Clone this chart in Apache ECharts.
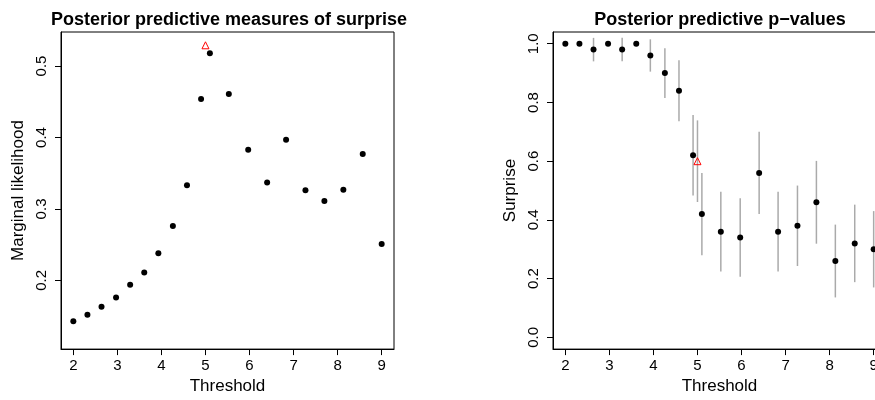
<!DOCTYPE html>
<html>
<head>
<meta charset="utf-8">
<title>Posterior predictive</title>
<style type="text/css">
  html, body { margin: 0; padding: 0; overflow: hidden; background: #fff; }
  #main { width: 984px; height: 400px; }
</style>
<script src="https://cdn.jsdelivr.net/npm/echarts@6/dist/echarts.min.js"></script>
</head>
<body>
<div id="main"></div>
<script type="text/javascript">
// thresholds (x) shared by both panels
var thresholds = [2, 2.32, 2.64, 2.97, 3.29, 3.61, 3.93, 4.26, 4.58, 4.9,
                  5.1, 5.53, 5.97, 6.4, 6.83, 7.27, 7.7, 8.13, 8.57, 9.0];
// left panel
var likelihood = [0.143, 0.152, 0.163, 0.176, 0.194, 0.211, 0.238, 0.276, 0.333, 0.454,
                  0.518, 0.461, 0.383, 0.337, 0.397, 0.326, 0.311, 0.327, 0.377, 0.251];
var likelihoodMark = [5, 0.529];
// right panel
var pvalue = [1.0, 1.0, 0.98, 1.0, 0.98, 1.0, 0.96, 0.90, 0.84, 0.62,
              0.42, 0.36, 0.34, 0.56, 0.36, 0.38, 0.46, 0.26, 0.32, 0.30];
var pvalueLow = [1.0, 1.0, 0.94, 1.0, 0.94, 1.0, 0.905, 0.815, 0.736, 0.483,
                 0.28, 0.224, 0.206, 0.42, 0.224, 0.243, 0.319, 0.136, 0.188, 0.17];
var pvalueHigh = [1.0, 1.0, 1.02, 1.0, 1.02, 1.0, 1.015, 0.985, 0.944, 0.757,
                  0.56, 0.496, 0.474, 0.70, 0.496, 0.517, 0.601, 0.384, 0.452, 0.43];
var pvalueMark = [5, 0.60, 0.461, 0.739];

var xTicks = [2, 3, 4, 5, 6, 7, 8, 9];
var leftTicks = [0.2, 0.3, 0.4, 0.5];
var rightTicks = [0, 0.2, 0.4, 0.6, 0.8, 1.0];

var FONT = "'Liberation Sans', Arial, Helvetica, sans-serif";

var chart = echarts.init(document.getElementById('main'));

function xAxis(idx) {
  return {
    gridIndex: idx, type: 'value', min: 1.72, max: 9.28,
    name: 'Threshold', nameLocation: 'middle', nameGap: 28,
    nameTextStyle: { fontFamily: FONT, fontSize: 17, color: '#000' },
    axisLine: { show: true, onZero: false, lineStyle: { color: '#000', width: 1 } },
    axisTick: { show: true, length: 6, lineStyle: { color: '#000' }, customValues: xTicks },
    axisLabel: { fontFamily: FONT, fontSize: 15, color: '#000', margin: 9, customValues: xTicks,
                 formatter: function (v) { return String(v); } },
    splitLine: { show: false }
  };
}

function yAxis(idx, name, min, max, ticks) {
  return {
    gridIndex: idx, type: 'value', min: min, max: max,
    name: name, nameLocation: 'middle', nameGap: 34, nameRotate: 90,
    nameTextStyle: { fontFamily: FONT, fontSize: 17, color: '#000' },
    axisLine: { show: true, onZero: false, lineStyle: { color: '#000', width: 1 } },
    axisTick: { show: true, length: 6, lineStyle: { color: '#000' }, customValues: ticks },
    axisLabel: { fontFamily: FONT, fontSize: 15, color: '#000', margin: 12, rotate: 90,
                 customValues: ticks, formatter: function (v) { return v.toFixed(1); } },
    splitLine: { show: false }
  };
}

var likeData = thresholds.map(function (t, i) { return [t, likelihood[i]]; });
var pData = thresholds.map(function (t, i) { return [t, pvalue[i]]; });
var barData = thresholds.map(function (t, i) { return [t, pvalueLow[i], pvalueHigh[i]]; });
barData.push([pvalueMark[0], pvalueMark[2], pvalueMark[3]]);

chart.setOption({
  animation: false,
  title: [
    { text: 'Posterior predictive measures of surprise', left: 224, top: 6, textAlign: 'center',
      textStyle: { fontFamily: FONT, fontSize: 18, fontWeight: 'bold', color: '#000' } },
    { text: 'Posterior predictive p\u2212values', left: 715, top: 6, textAlign: 'center',
      textStyle: { fontFamily: FONT, fontSize: 18, fontWeight: 'bold', color: '#000' } }
  ],
  grid: [
    { left: 61, top: 32, width: 333, height: 321, show: true, borderColor: '#000', borderWidth: 1, backgroundColor: 'transparent' },
    { left: 553, top: 32, width: 333, height: 321, show: true, borderColor: '#000', borderWidth: 1, backgroundColor: 'transparent' }
  ],
  xAxis: [xAxis(0), xAxis(1)],
  yAxis: [
    yAxis(0, 'Marginal likelihood', 0.1039, 0.5476, leftTicks),
    yAxis(1, 'Surprise', -0.04, 1.04, rightTicks)
  ],
  series: [
    {
      type: 'scatter', xAxisIndex: 0, yAxisIndex: 0, data: likeData,
      symbol: 'circle', symbolSize: 6, itemStyle: { color: '#000', opacity: 1 }
    },
    {
      type: 'scatter', xAxisIndex: 0, yAxisIndex: 0, data: [likelihoodMark],
      symbol: 'triangle', symbolSize: 7,
      itemStyle: { color: 'none', borderColor: '#ff0000', borderWidth: 1, opacity: 1 }
    },
    {
      type: 'custom', xAxisIndex: 1, yAxisIndex: 1, data: barData,
      renderItem: function (params, api) {
        var lo = api.coord([api.value(0), api.value(1)]);
        var hi = api.coord([api.value(0), api.value(2)]);
        return {
          type: 'line',
          shape: { x1: lo[0], y1: lo[1], x2: hi[0], y2: hi[1] },
          style: { stroke: '#aaaaaa', lineWidth: 1.5 }
        };
      }
    },
    {
      type: 'scatter', xAxisIndex: 1, yAxisIndex: 1, data: pData,
      symbol: 'circle', symbolSize: 6, itemStyle: { color: '#000', opacity: 1 }
    },
    {
      type: 'scatter', xAxisIndex: 1, yAxisIndex: 1, data: [[pvalueMark[0], pvalueMark[1]]],
      symbol: 'triangle', symbolSize: 7,
      itemStyle: { color: 'none', borderColor: '#ff0000', borderWidth: 1, opacity: 1 }
    }
  ]
});
</script>
</body>
</html>
